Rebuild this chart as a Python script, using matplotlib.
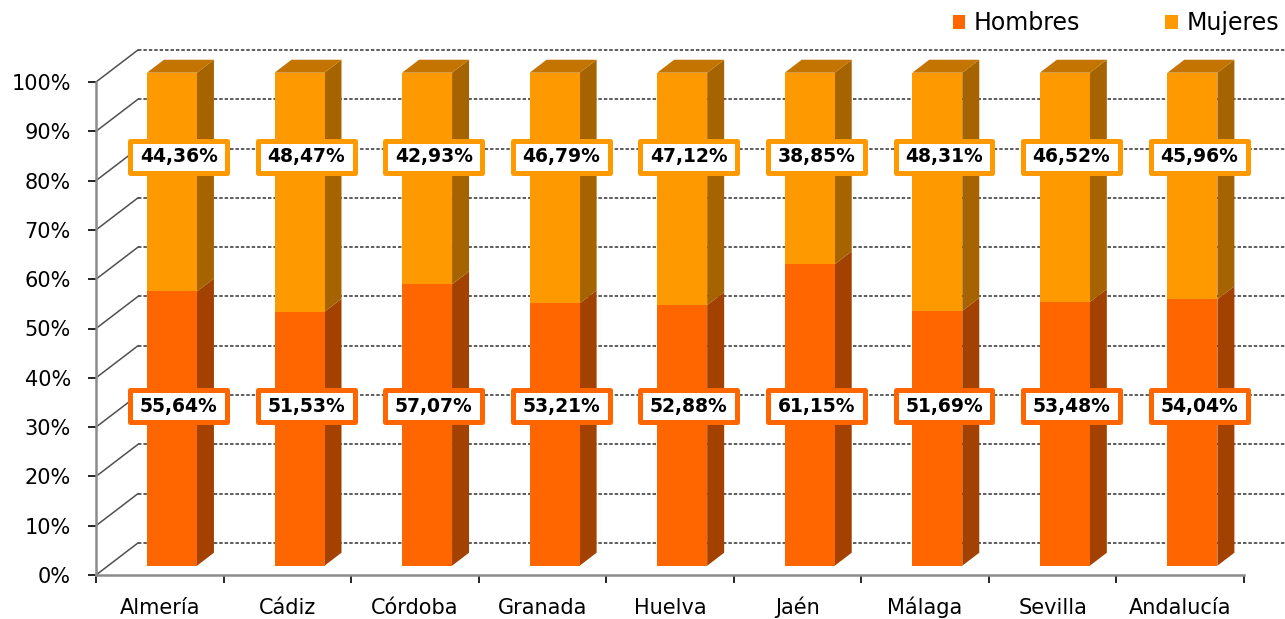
import numpy as np
import matplotlib
matplotlib.use('Agg')
import matplotlib.pyplot as plt
from matplotlib.patches import Polygon, Rectangle, Patch

# data
provincias = ['Almería', 'Cádiz', 'Córdoba', 'Granada', 'Huelva', 'Jaén', 'Málaga', 'Sevilla', 'Andalucía']
hombres = [55.64, 51.53, 57.07, 53.21, 52.88, 61.15, 51.69, 53.48, 54.04]
mujeres = [44.36, 48.47, 42.93, 46.79, 47.12, 38.85, 48.31, 46.52, 45.96]
y_ticks = [0, 10, 20, 30, 40, 50, 60, 70, 80, 90, 100]

# colours
c_hom = '#FF6600'
c_hom_side = '#A34100'
c_muj = '#FF9900'
c_muj_side = '#A66400'
c_muj_top = '#C47400'
c_grid = '#505050'
c_axis = '#8C8C8C'

# fake 3d geometry (depth of the wall in data units)
DX = 0.329   # categories
DY = 6.5     # percent
F0, F1 = 0.29, 0.695   # front / back of the bars, as fraction of depth
BW = 0.392   # bar width
LBL_Y_MUJ = 84.8
LBL_Y_HOM = 34.2

plt.rcParams['font.family'] = ['DejaVu Sans']

fig = plt.figure(figsize=(12.85, 6.19), dpi=100)
ax = fig.add_axes([96/1285, 44/619, 1148/1285, 493/619])
n = len(provincias)
ax.set_xlim(0, n)
ax.set_ylim(0, 100)
ax.patch.set_visible(False)

# back wall gridlines + diagonals on the side
for t in y_ticks:
    ax.plot([DX, n + DX], [t + DY, t + DY], color=c_grid, lw=1.3,
            linestyle=(0, (1.9, 1.1)), clip_on=False, zorder=1)
    ax.plot([0, DX], [t, t + DY], color=c_grid, lw=1.1, clip_on=False, zorder=1)

ox0, oy0 = F0 * DX, F0 * DY
ox1, oy1 = F1 * DX, F1 * DY

def box3d(x0, y0, y1, front, side, top=None):
    x1 = x0 + BW
    ax.add_patch(Rectangle((x0 + ox0, y0 + oy0), BW, y1 - y0, fc=front, ec='none',
                           zorder=3, clip_on=False))
    ax.add_patch(Polygon([(x1 + ox0, y0 + oy0), (x1 + ox1, y0 + oy1),
                          (x1 + ox1, y1 + oy1), (x1 + ox0, y1 + oy0)],
                         fc=side, ec='none', zorder=2, clip_on=False))
    if top is not None:
        ax.add_patch(Polygon([(x0 + ox0, y1 + oy0), (x0 + ox1, y1 + oy1),
                              (x1 + ox1, y1 + oy1), (x1 + ox0, y1 + oy0)],
                             fc=top, ec='none', zorder=2, clip_on=False))

def label(cx, cy, val, col):
    w, h = 0.76, 6.5
    ax.add_patch(Rectangle((cx - w/2, cy - h/2), w, h, fc='white', ec=col, lw=3.6,
                           joinstyle='round', zorder=5, clip_on=False))
    txt = f'{val:.2f}'.replace('.', ',') + '%'
    ax.text(cx, cy, txt, ha='center', va='center', fontsize=13.5, fontweight='bold',
            color='black', zorder=6)

for i in range(n):
    x0 = i + 0.5 - BW / 2
    box3d(x0, 0, hombres[i], c_hom, c_hom_side)
    box3d(x0, hombres[i], hombres[i] + mujeres[i], c_muj, c_muj_side, c_muj_top)
    cx = i + 0.5 + 0.45 * DX
    label(cx, LBL_Y_MUJ, mujeres[i], c_muj)
    label(cx, LBL_Y_HOM, hombres[i], c_hom)

# axes
for s in ['top', 'right']:
    ax.spines[s].set_visible(False)
for s in ['left', 'bottom']:
    ax.spines[s].set_color(c_axis)
    ax.spines[s].set_linewidth(1.8)
    ax.spines[s].set_zorder(4)

ax.set_yticks(y_ticks)
ax.set_yticklabels([f'{t}%' for t in y_ticks], fontsize=15)
ax.tick_params(axis='y', length=6, width=1.2, color='black', pad=12)

ax.set_xticks(np.arange(n + 1))
ax.set_xticklabels([])
ax.tick_params(axis='x', which='major', length=6, width=1.2, color='black')
ax.set_xticks(np.arange(n) + 0.5, minor=True)
ax.set_xticklabels(provincias, minor=True, fontsize=15)
ax.tick_params(axis='x', which='minor', length=0, pad=28)
for lab in ax.get_xticklabels(minor=True):
    lab.set_verticalalignment('baseline')

handles = [Patch(facecolor=c_hom, edgecolor='none', label='Hombres'),
           Patch(facecolor=c_muj, edgecolor='none', label='Mujeres')]
fig.legend(handles=handles, loc='center right', bbox_to_anchor=(1279/1285, 1 - 23/619),
           ncol=2, frameon=False, fontsize=17, handlelength=0.55, handleheight=0.55,
           handletextpad=0.35, columnspacing=3.6, borderpad=0, borderaxespad=0)

fig.savefig('out.png', dpi=100)
plt.close()
